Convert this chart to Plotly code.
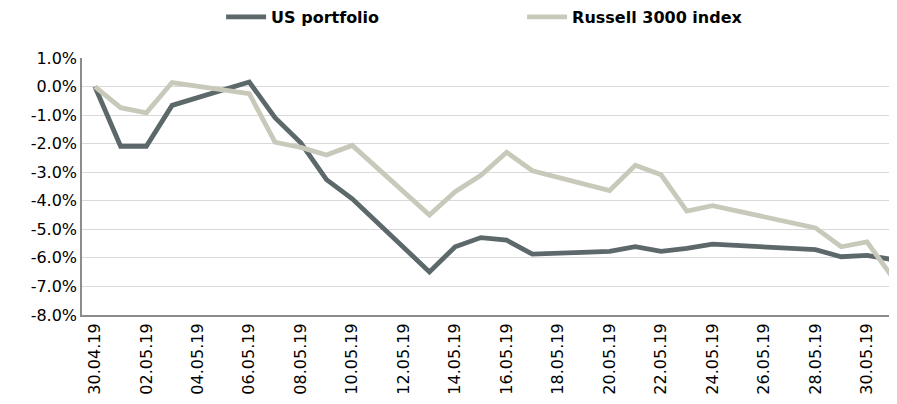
import plotly.graph_objects as go

dates = ["2019-04-30", "2019-05-01", "2019-05-02", "2019-05-03", "2019-05-06",
         "2019-05-07", "2019-05-08", "2019-05-09", "2019-05-10", "2019-05-13",
         "2019-05-14", "2019-05-15", "2019-05-16", "2019-05-17", "2019-05-20",
         "2019-05-21", "2019-05-22", "2019-05-23", "2019-05-24", "2019-05-28",
         "2019-05-29", "2019-05-30", "2019-05-31"]

us_portfolio = [0.0, -2.09, -2.09, -0.66, 0.16,
                -1.09, -1.97, -3.26, -3.93, -6.49,
                -5.61, -5.29, -5.38, -5.87, -5.77,
                -5.61, -5.77, -5.67, -5.52, -5.71,
                -5.96, -5.91, -6.06]

russell_3000 = [0.0, -0.74, -0.92, 0.14, -0.25,
                -1.95, -2.13, -2.40, -2.06, -4.50,
                -3.68, -3.11, -2.30, -2.95, -3.64,
                -2.76, -3.09, -4.36, -4.17, -4.95,
                -5.61, -5.44, -6.69]

y_tick_values = [1, 0, -1, -2, -3, -4, -5, -6, -7, -8]
y_tick_labels = ["1.0%", "0.0%", "-1.0%", "-2.0%", "-3.0%", "-4.0%",
                 "-5.0%", "-6.0%", "-7.0%", "-8.0%"]

us_vals = [v / 100 for v in us_portfolio]
ru_vals = [v / 100 for v in russell_3000]

font_family = "Verdana, DejaVu Sans, sans-serif"

fig = go.Figure()
fig.add_trace(go.Scatter(x=dates, y=us_vals, mode="lines", name="US portfolio",
                         line=dict(color="#5c686a", width=4.8)))
fig.add_trace(go.Scatter(x=dates, y=ru_vals, mode="lines", name="Russell 3000 index",
                         line=dict(color="#c8c9ba", width=4.8)))

fig.update_layout(
    width=889, height=388,
    margin=dict(l=74, r=0, t=50, b=81, autoexpand=False),
    paper_bgcolor="white", plot_bgcolor="white",
    font=dict(family=font_family, size=16, color="#000000"),
    showlegend=True,
    legend=dict(orientation="h", x=0.54, xanchor="center", y=1.16, yanchor="middle",
                yref="paper",
                font=dict(family=font_family, size=16, color="#000000", weight="bold"),
                itemwidth=40, entrywidthmode="pixels", entrywidth=246,
                bgcolor="rgba(0,0,0,0)"),
)

fig.update_xaxes(
    type="date", automargin=False,
    range=["2019-04-29 12:00", "2019-05-31 04:00"],
    tick0="2019-04-30", dtick=2 * 86400000,
    tickformat="%d.%m.%y", tickangle=-90,
    showgrid=False, showline=True, linecolor="#8c8c8c", linewidth=2,
    ticks="", tickfont=dict(size=16, color="#000000"),
)
fig.update_yaxes(
    automargin=False,
    range=[-0.08, 0.01],
    tickmode="array",
    tickvals=[v / 100 for v in y_tick_values], ticktext=y_tick_labels,
    showgrid=True, gridcolor="#d9d9d9", gridwidth=1,
    showline=True, linecolor="#8c8c8c", linewidth=1.5,
    zeroline=False, ticks="", tickfont=dict(size=16, color="#000000"),
)

fig.write_html("out.html")
